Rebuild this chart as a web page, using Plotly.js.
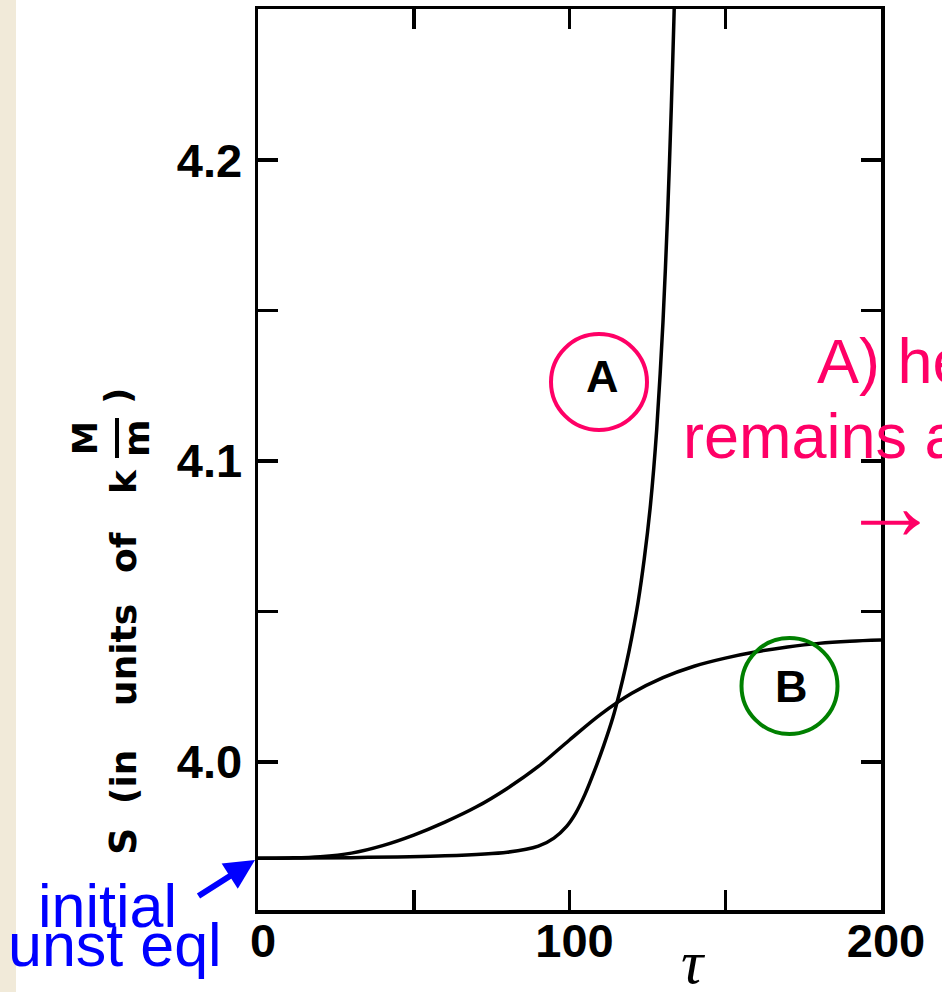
<!DOCTYPE html>
<html><head><meta charset="utf-8">
<script src="https://cdn.plot.ly/plotly-3.0.1.min.js"></script>
<style>html,body{margin:0;padding:0;background:#fff;}#chart{width:942px;height:992px;}</style>
</head><body><div id="chart"></div>
<script>
// ---- data ----
const tauA = [0, 30, 60, 80, 90, 95, 99, 102, 105, 108, 111, 114, 116, 118, 120, 122, 124, 126, 128, 130, 131.5, 132.7, 133.5, 134];
const sA   = [3.9680, 3.9682, 3.9688, 3.9700, 3.9720, 3.9747, 3.9785, 3.9830, 3.9893, 3.9970, 4.0055, 4.0150, 4.0228, 4.0315, 4.0415, 4.0530, 4.0675, 4.0855, 4.1105, 4.1460, 4.1820, 4.2180, 4.2460, 4.2650];
const tauB = [0, 10, 20, 30, 40, 50, 60, 70, 80, 90, 100, 110, 120, 130, 140, 150, 160, 170, 180, 190, 200];
const sB   = [3.9680, 3.9681, 3.9685, 3.9697, 3.9722, 3.9757, 3.9800, 3.9850, 3.9912, 3.9985, 4.0073, 4.0158, 4.0228, 4.0280, 4.0318, 4.0345, 4.0366, 4.0382, 4.0394, 4.0401, 4.0405];
const yTickVals = [4.0, 4.05, 4.1, 4.15, 4.2];
const yTickText = ["4.0", "", "4.1", "", "4.2"];
const xTickVals = [0, 50, 100, 150, 200];
const xTickText = ["0", "", "100", "", "200"];
const curveLabels = ["A", "B"];

// ---- layout geometry (pixels) ----
const W = 942, H = 992, L = 258, R = 61, T = 9, B = 82;
const pw = W - L - R, ph = H - T - B;
const px = x => (x - L) / pw;
const py = y => (H - B - y) / ph;

const PINK = '#FF0066', GREEN = '#008000', BLUE = '#0000FF';

function txt(text, cx, cy, size, color, family, extra) {
  return Object.assign({
    xref: 'paper', yref: 'paper', x: px(cx), y: py(cy),
    xanchor: 'center', yanchor: 'middle', showarrow: false,
    text: text, font: {family: family, size: size, color: color}
  }, extra || {});
}
const yt = (t, cx, cy, size) => txt(t, cx, cy, size, '#000', 'DejaVu Sans', {textangle: -90, font: {family: 'DejaVu Sans', size: size, color: '#000', weight: 'bold'}});

const traces = [
  {x: tauA, y: sA, mode: 'lines', line: {color: '#000', width: 3.5, shape: 'spline', smoothing: 0.8}, hoverinfo: 'skip'},
  {x: tauB, y: sB, mode: 'lines', line: {color: '#000', width: 3.5, shape: 'spline', smoothing: 1}, hoverinfo: 'skip'}
];

const axisCommon = {
  showline: true, linecolor: '#000', linewidth: 3.5, mirror: 'ticks',
  ticks: 'inside', ticklen: 20, tickwidth: 3.5, tickcolor: '#000',
  showgrid: false, zeroline: false, tickmode: 'array',
  tickfont: {family: 'Liberation Sans', size: 47, color: '#000', weight: 'bold'}
};

const layout = {
  width: W, height: H, margin: {l: L, r: R, t: T, b: B, pad: 0},
  paper_bgcolor: '#fff', plot_bgcolor: '#fff', showlegend: false,
  xaxis: Object.assign({}, axisCommon, {range: [0, 200], tickvals: xTickVals, ticktext: xTickText, ticklabelshift: 5, ticklabelstandoff: -13}),
  yaxis: Object.assign({}, axisCommon, {range: [3.9508, 4.2502], tickvals: yTickVals, ticktext: yTickText, ticklabelstandoff: 3}),
  shapes: [
    {type: 'rect', xref: 'paper', yref: 'paper', x0: px(0), x1: px(16), y0: py(H), y1: py(0), fillcolor: '#F1EAD9', line: {width: 0}, layer: 'below'},
    {type: 'circle', xref: 'paper', yref: 'paper', x0: px(551), x1: px(647), y0: py(430), y1: py(334), line: {color: PINK, width: 4}},
    {type: 'circle', xref: 'paper', yref: 'paper', x0: px(741.5), x1: px(837.5), y0: py(734), y1: py(638), line: {color: GREEN, width: 4}},
    {type: 'line', xref: 'paper', yref: 'paper', x0: px(117), x1: px(117), y0: py(458), y1: py(418), line: {color: '#000', width: 4}}
  ],
  annotations: [
    txt(curveLabels[0], 602, 376, 45, '#000', 'Liberation Sans', {font: {family: 'Liberation Sans', size: 45, color: '#000', weight: 'bold'}}),
    txt(curveLabels[1], 791, 686, 45, '#000', 'Liberation Sans', {font: {family: 'Liberation Sans', size: 45, color: '#000', weight: 'bold'}}),
    // y-axis title pieces
    yt('S', 123, 842, 38),
    yt('(in', 123, 777, 36),
    yt('units', 123, 655, 36),
    yt('of', 123, 553, 36),
    yt('k', 123, 482, 36),
    yt('M', 85, 438, 34),
    yt('m', 137, 438, 36),
    yt(')', 118, 396, 36),
    // x-axis title
    txt('τ', 693, 962, 62, '#000', 'Liberation Serif', {font: {family: 'Liberation Serif', size: 62, color: '#000', style: 'italic'}}),
    // pink notes
    txt('A) he', 815, 361, 63, PINK, 'Liberation Sans', {xanchor: 'left'}),
    txt('remains a', 681, 436, 63, PINK, 'Liberation Sans', {xanchor: 'left'}),
    txt('→', 890, 505, 99, PINK, 'Liberation Sans'),
    // blue notes
    txt('initial', 36, 906, 61, BLUE, 'Liberation Sans', {xanchor: 'left'}),
    txt('unst eql', 6, 945, 61, BLUE, 'Liberation Sans', {xanchor: 'left'}),
    {xref: 'paper', yref: 'paper', x: px(255), y: py(860), ax: -58, ay: 37, axref: 'pixel', ayref: 'pixel',
     text: '', showarrow: true, arrowhead: 2, arrowsize: 1, arrowwidth: 6, arrowcolor: BLUE, standoff: 0}
  ]
};

Plotly.newPlot('chart', traces, layout, {staticPlot: true, displayModeBar: false});
</script>
</body></html>
